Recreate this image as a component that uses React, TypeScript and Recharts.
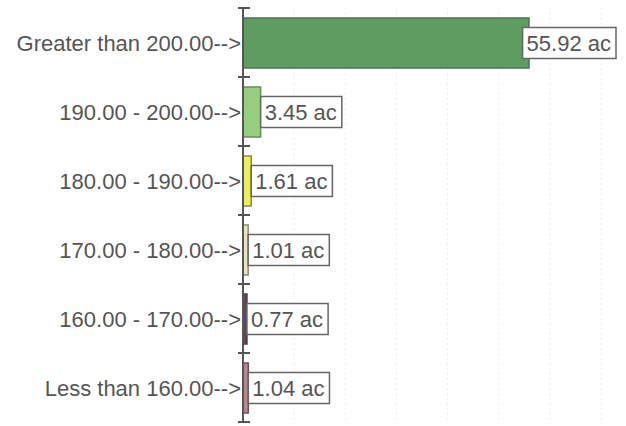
import { Bar, BarChart, CartesianGrid, Cell, LabelList, XAxis, YAxis } from "recharts";

const categories = [
  "Greater than 200.00",
  "190.00 - 200.00",
  "180.00 - 190.00",
  "170.00 - 180.00",
  "160.00 - 170.00",
  "Less than 160.00",
];
const acres = [55.92, 3.45, 1.61, 1.01, 0.77, 1.04];
const fills = ["#5e9c60", "#95cf7d", "#ecef5a", "#e8e4c2", "#5c4858", "#b58890"];
const strokes = ["#52705a", "#6e8a62", "#8c8c4a", "#8a8a78", "#4a3a48", "#6e5058"];
const xTicks = [0, 10, 20, 30, 40, 50, 60, 70];

const data = categories.map((name, i) => ({ name, value: acres[i] }));

const W = 626;
const H = 426;
const MARGIN = { top: 8, right: 25, bottom: 4, left: 0 };
const Y_AXIS_W = 243;
const AXIS_X = MARGIN.left + Y_AXIS_W;
const BAND = (H - MARGIN.top - MARGIN.bottom) / categories.length;
const FONT = "'Liberation Sans', Arial, sans-serif";
const TEXT = "#555";

// rough Arial advance widths, in em
const charW = (c: string) => (c === "." || c === " " ? 0.278 : c === "c" ? 0.5 : 0.556);
const textWidth = (s: string, size: number) =>
  s.split("").reduce((sum, c) => sum + charW(c), 0) * size;

const CategoryTick = (props: any) => {
  const { y, payload, index } = props;
  const top = y - BAND / 2;
  const bottom = y + BAND / 2;
  return (
    <g>
      <line x1={AXIS_X - 5} x2={AXIS_X + 7} y1={top} y2={top} stroke="#555" strokeWidth={2} />
      {index === categories.length - 1 && (
        <line x1={AXIS_X - 5} x2={AXIS_X + 7} y1={bottom} y2={bottom} stroke="#555" strokeWidth={2} />
      )}
      <text
        x={AXIS_X - 2}
        y={y}
        dy={8}
        textAnchor="end"
        fill={TEXT}
        fontSize={22}
        fontFamily={FONT}
      >
        {payload.value + "-->"}
      </text>
    </g>
  );
};

const ValueLabel = (props: any) => {
  const { x, y, width, height, value } = props;
  const label = `${value.toFixed(2)} ac`;
  const boxW = textWidth(label, 22) + 9;
  const boxH = 31;
  const boxX = Math.min(x + width, W - 10 - boxW);
  const boxY = y + height / 2 - boxH / 2;
  return (
    <g>
      <rect x={boxX} y={boxY} width={boxW} height={boxH} fill="#fff" stroke="#666" strokeWidth={1.5} />
      <text x={boxX + 4} y={boxY + boxH / 2} dy={8} fill={TEXT} fontSize={22} fontFamily={FONT}>
        {label}
      </text>
    </g>
  );
};

export default function App() {
  return (
    <div style={{ position: "absolute", left: 0, top: 0, width: W, height: H, background: "#fff" }}>
      <BarChart width={W} height={H} data={data} layout="vertical" margin={MARGIN}>
        <CartesianGrid horizontal={false} stroke="#ececec" strokeDasharray="2 3" />
        <XAxis type="number" domain={[0, 70]} ticks={xTicks} hide />
        <YAxis
          type="category"
          dataKey="name"
          width={Y_AXIS_W}
          axisLine={{ stroke: "#555", strokeWidth: 2 }}
          tickLine={false}
          tick={<CategoryTick />}
          interval={0}
        />
        <Bar dataKey="value" barSize={50} isAnimationActive={false} strokeWidth={1.5}>
          {data.map((d, i) => (
            <Cell key={d.name} fill={fills[i]} stroke={strokes[i]} />
          ))}
          <LabelList dataKey="value" content={<ValueLabel />} />
        </Bar>
      </BarChart>
    </div>
  );
}
